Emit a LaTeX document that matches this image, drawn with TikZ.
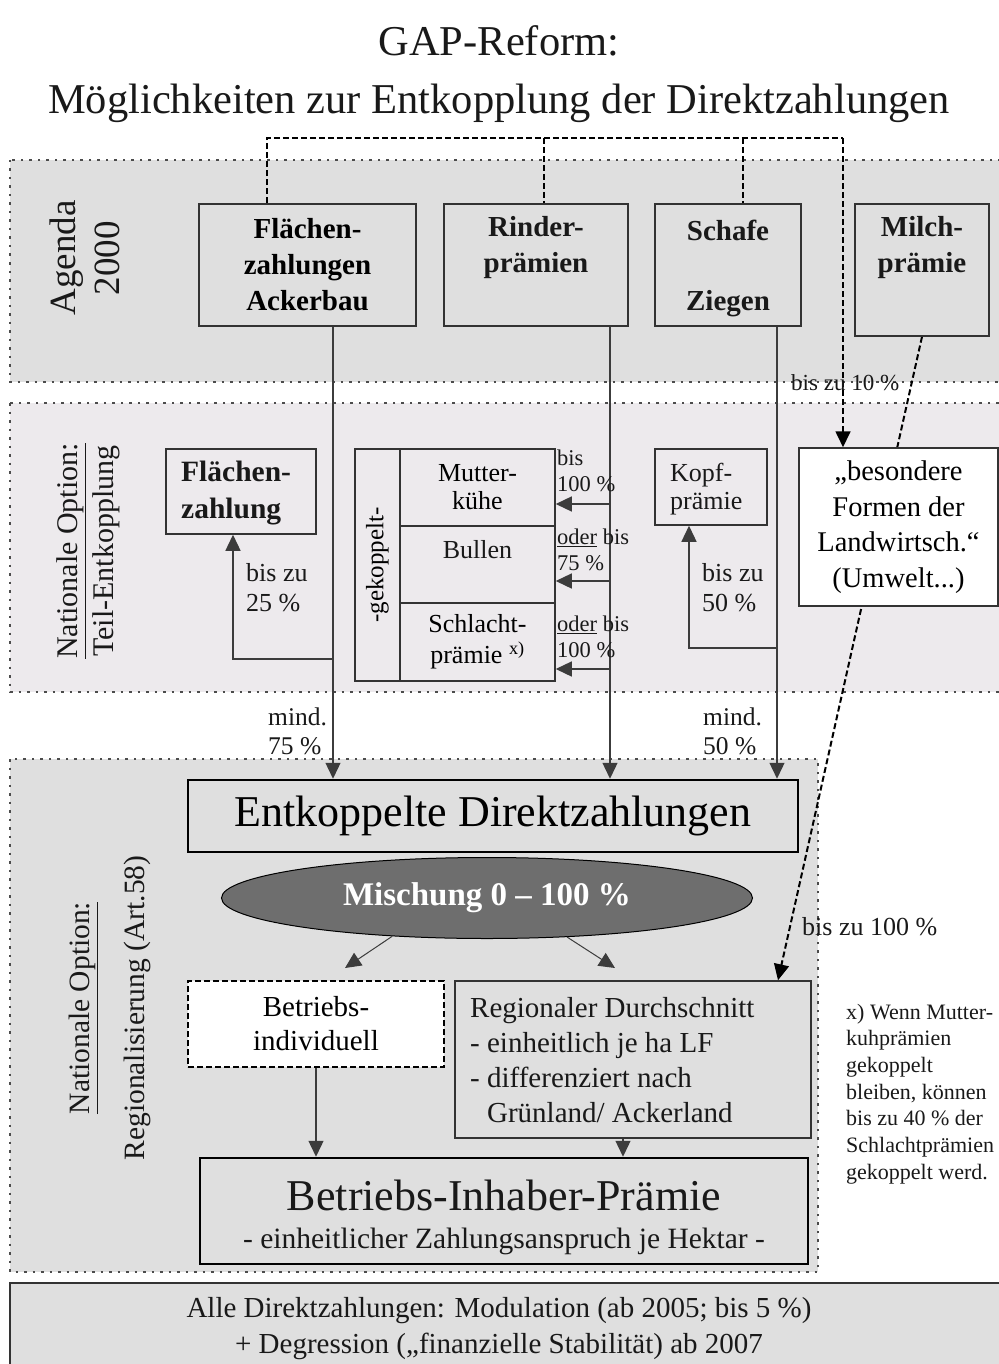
\documentclass[tikz,border=0pt]{standalone}
\usepackage{fontspec}
\setmainfont{Liberation Serif}
\usetikzlibrary{arrows.meta,shapes.geometric,calc}
\pgfdeclarelayer{back}
\pgfdeclarelayer{mid}
\pgfsetlayers{back,mid,main}
\definecolor{bandgray}{RGB}{223,223,223}
\definecolor{bandpink}{RGB}{237,234,237}
\definecolor{ellgray}{RGB}{110,110,110}
\definecolor{linegray}{RGB}{60,60,60}
\newcommand\fsz[2]{\fontsize{#1}{#2}\selectfont}
\begin{document}
\begin{tikzpicture}[x=1pt,y=-1pt,
  band/.style={draw=black!70, line width=1.2pt, dash pattern=on 2.5pt off 6pt},
  box/.style={draw=black!80, line width=1.5pt, fill=bandgray, inner sep=0pt},
  pbox/.style={box, fill=bandpink},
  bigbox/.style={draw=black, line width=2.5pt, fill=bandgray, inner sep=0pt},
  conn/.style={draw=linegray, line width=1.3pt},
  arr/.style={conn, -{Triangle[length=16pt,width=15pt]}},
  dconn/.style={draw=black, line width=1.7pt, dash pattern=on 6pt off 3pt},
  darr/.style={dconn, -{Triangle[length=16pt,width=15pt]}},
  txt/.style={inner sep=0pt, text=black!90},
]
\useasboundingbox (0,0) rectangle (998,1364);

% title
\node[txt, font=\fsz{42.5}{58}, align=center] (title) at (499,74) {GAP-Reform:\\Möglichkeiten zur Entkopplung der Direktzahlungen};

% bands
\begin{pgfonlayer}{back}
\path[band, fill=bandgray] (10,160) rectangle (1010,382);
\path[band, fill=bandpink] (10,403) rectangle (1010,692);
\path[band, fill=bandgray] (10,759) rectangle (818,1272);
\path[draw=black!80, line width=1.5pt, fill=bandgray] (10,1283) rectangle (1010,1380);
\end{pgfonlayer}

% side labels
\node[txt, rotate=90, font=\fsz{37}{44}, align=center] (ag) at (85,258) {Agenda\\2000};
\node[txt, rotate=90, align=center, font=\fsz{30}{36}] (nt) at (88,551) {\underline{Nationale Option:}\\Teil-Entkopplung};
\node[txt, rotate=90, align=center, font=\fsz{29.5}{55}] (nr) at (109.5,1008) {\underline{Nationale Option:}\\Regionalisierung (Art.58)};

% Agenda 2000 boxes
\node[box, minimum width=217pt, minimum height=122pt, font=\bfseries\fsz{29}{36}, align=center] (fl) at (307.5,265) {Flächen-\\zahlungen\\Ackerbau};
\node[box, minimum width=184pt, minimum height=122pt] (ri) at (536,265) {};
\node[txt, font=\bfseries\fsz{29}{36}, align=center] (rit) at (536,248) {Rinder-\\prämien};
\node[box, minimum width=146pt, minimum height=122pt] (sz) at (728,265) {};
\node[txt, font=\bfseries\fsz{29}{36}] (szt1) at (728,230) {Schafe};
\node[txt, font=\bfseries\fsz{29}{36}] (szt2) at (728,304) {Ziegen};
\node[box, minimum width=134pt, minimum height=132pt] (mi) at (922,270) {};
\node[txt, font=\bfseries\fsz{29}{36}, align=center] (mit) at (922,248) {Milch-\\prämie};

% Teil-Entkopplung boxes
\node[pbox, minimum width=150pt, minimum height=85pt] (fz) at (241,491.5) {};
\node[txt, anchor=west, align=left, font=\bfseries\fsz{29.5}{37}] (fzt) at (181,493) {Flächen-\\zahlung};
\node[pbox, minimum width=232pt, minimum height=45pt, rotate=90, font=\fsz{25}{28}] (gk) at (377.5,565) {-gekoppelt-};
\node[pbox, minimum width=155pt, minimum height=77pt, align=center, font=\fsz{26}{28}] (mk) at (477.5,487.5) {Mutter-\\kühe};
\node[pbox, minimum width=155pt, minimum height=77pt] (bu) at (477.5,564.5) {};
\node[txt, font=\fsz{26}{28}] (but) at (477.5,550) {Bullen};
\node[pbox, minimum width=155pt, minimum height=78pt, align=center, font=\fsz{26}{31}] (sp) at (477.5,642) {Schlacht-\\prämie \textsuperscript{x)}};
\node[pbox, minimum width=112pt, minimum height=76pt] (kp) at (711,487) {};
\node[txt, anchor=west, align=left, font=\fsz{26}{28}] (kpt) at (670,489) {Kopf-\\prämie};
\node[draw=black!80, line width=1.5pt, fill=white, inner sep=0pt, minimum width=199pt, minimum height=158pt, align=center, font=\fsz{28.5}{35.5}] (bf) at (898.5,527) {„besondere\\Formen der\\Landwirtsch.“\\(Umwelt...)};

% Regionalisierung boxes
\node[bigbox, minimum width=610pt, minimum height=72pt, font=\fsz{44}{50}] (ed) at (493,816) {Entkoppelte Direktzahlungen};
\node[ellipse, draw=black, line width=1pt, fill=ellgray, minimum width=531pt, minimum height=81pt, inner sep=0pt, text=white, font=\bfseries\fsz{33}{36}] (mix) at (487,898) {Mischung 0 – 100 \%};
\node[draw=black, line width=2.5pt, dash pattern=on 6pt off 3pt, fill=white, inner sep=0pt, minimum width=256pt, minimum height=86pt, align=center, font=\fsz{29}{34}] (bi) at (316,1024) {Betriebs-\\individuell};
\node[box, minimum width=356pt, minimum height=157pt] (rd) at (633,1059.5) {};
\node[txt, anchor=west, align=left, font=\fsz{29}{35}] (rdt) at (470,1060.5) {Regionaler Durchschnitt\\- einheitlich je ha LF\\- differenziert nach\\\hphantom{- }Grünland/ Ackerland};
\node[bigbox, minimum width=608pt, minimum height=106pt] (bp) at (504,1211) {};
\node[txt, font=\fsz{44}{50}] (bpt1) at (504,1195) {Betriebs-Inhaber-Prämie};
\node[txt, font=\fsz{29.5}{32}] (bpt2) at (504,1241) {- einheitlicher Zahlungsanspruch je Hektar -};

% footnote and footer
\node[txt, anchor=west, align=left, font=\fsz{22}{26.7}] (fn) at (846,1094) {x) Wenn Mutter-\\kuhprämien\\gekoppelt\\bleiben, können\\bis zu 40 \% der\\Schlachtprämien\\gekoppelt werd.};
\node[txt, align=center, font=\fsz{29}{36}] (ft) at (499,1329) {Alle Direktzahlungen: Modulation (ab 2005; bis 5 \%)\\+ Degression („finanzielle Stabilität) ab 2007};

% dashed connectors at the top
\coordinate (tl) at (267,138);
\coordinate (tm1) at (544,138);
\coordinate (tm2) at (743,138);
\coordinate (tr) at (843,138);
\draw[dconn] (fl.north -| tl) -- (tl) -- (tr);
\draw[dconn] (tm1) -- (ri.north -| tm1);
\draw[dconn] (tm2) -- (sz.north -| tm2);
\draw[darr] (tr) -- (bf.north -| tr);
\coordinate (mx) at (778,0);
\begin{pgfonlayer}{mid}
\draw[darr, line width=2pt] (mi.south) -- (rd.north -| mx);
\end{pgfonlayer}

% solid connectors
\coordinate (x1) at (333,0);
\coordinate (x2) at (610,0);
\coordinate (x3) at (777,0);
\draw[arr] (fl.south -| x1) -- (ed.north -| x1);
\draw[arr] (ri.south -| x2) -- (ed.north -| x2);
\draw[arr] (sz.south -| x3) -- (ed.north -| x3);
\coordinate (b1) at (333,659);
\draw[arr] (b1) -| ([xshift=-8pt]fz.south);
\coordinate (b3) at (777,648);
\draw[arr] (b3) -| ([xshift=-22pt]kp.south);
\coordinate (r1) at (610,504);
\coordinate (r2) at (610,581);
\coordinate (r3) at (610,669);
\draw[arr] (r1) -- (r1 -| mk.east);
\draw[arr] (r2) -- (r2 -| bu.east);
\draw[arr] (r3) -- (r3 -| sp.east);
\coordinate (m1) at (345,968);
\coordinate (m2) at (615,968);
\draw[arr, line width=1pt] (mix.202) -- (m1);
\draw[arr, line width=1pt] (mix.334) -- (m2);
\draw[arr] (bi.south) -- (bi.south |- bp.north);
\draw[arr] ([xshift=-10pt]rd.south) -- ([xshift=-10pt]rd.south |- bp.north);

% connector labels
\node[txt, anchor=west, align=left, font=\fsz{22.5}{26}] (l1) at (557,471) {bis\\100 \%};
\node[txt, anchor=west, align=left, font=\fsz{22.5}{26}] (l2) at (557,550) {\underline{oder} bis\\75 \%};
\node[txt, anchor=west, align=left, font=\fsz{22.5}{26}] (l3) at (557,637) {\underline{oder} bis\\100 \%};
\node[txt, anchor=west, align=left, font=\fsz{26}{30}] (l4) at (246,588) {bis zu\\25 \%};
\node[txt, anchor=west, align=left, font=\fsz{26}{30}] (l5) at (702,588) {bis zu\\50 \%};
\node[txt, anchor=west, align=left, font=\fsz{25.5}{29}] (l6) at (268,731) {mind.\\75 \%};
\node[txt, anchor=west, align=left, font=\fsz{25.5}{29}] (l7) at (703,731) {mind.\\50 \%};
\node[txt, anchor=west, font=\fsz{23}{26}] (l8) at (791,383) {bis zu 10 \%};
\node[txt, anchor=west, font=\fsz{26}{28}] (l9) at (802,927) {bis zu 100 \%};
\end{tikzpicture}
\end{document}
